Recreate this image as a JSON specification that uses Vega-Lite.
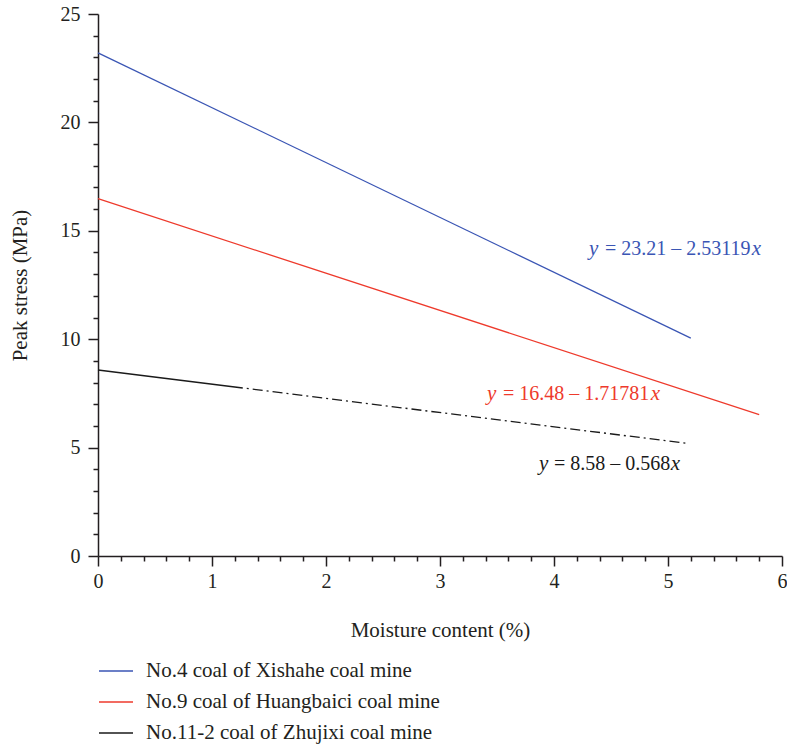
{
  "$schema": "https://vega.github.io/schema/vega-lite/v6.json",
  "width": 684,
  "height": 542,
  "autosize": "none",
  "padding": {"left": 98, "top": 14, "right": 5, "bottom": 192},
  "background": "white",
  "config": {
    "view": {"stroke": null},
    "font": "Liberation Serif",
    "axis": {
      "labelFont": "Liberation Serif",
      "titleFont": "Liberation Serif",
      "labelFontSize": 20,
      "titleFontSize": 21,
      "titleFontWeight": "normal",
      "labelColor": "#231f20",
      "titleColor": "#231f20",
      "domainColor": "#231f20",
      "tickColor": "#231f20",
      "domainWidth": 1.5,
      "tickWidth": 1.5,
      "grid": false
    }
  },
  "datasets": {
    "lines": [
      {"series": "No.4 coal of Xishahe coal mine", "part": "solid", "x": 0, "y": 23.21},
      {"series": "No.4 coal of Xishahe coal mine", "part": "solid", "x": 5.2, "y": 10.05},
      {"series": "No.9 coal of Huangbaici coal mine", "part": "solid", "x": 0, "y": 16.48},
      {"series": "No.9 coal of Huangbaici coal mine", "part": "solid", "x": 5.8, "y": 6.52},
      {"series": "No.11-2 coal of Zhujixi coal mine", "part": "solid", "x": 0, "y": 8.58},
      {"series": "No.11-2 coal of Zhujixi coal mine", "part": "solid", "x": 1.27, "y": 7.75},
      {"series": "No.11-2 coal of Zhujixi coal mine", "part": "dashed", "x": 1.27, "y": 7.75},
      {"series": "No.11-2 coal of Zhujixi coal mine", "part": "dashed", "x": 5.16, "y": 5.2}
    ],
    "eqs": [
      {"series": "No.4 coal of Xishahe coal mine", "x0": 4.307, "xm": 5.085, "x1": 5.817, "y": 14.16, "mid": "= 23.21 – 2.53119"},
      {"series": "No.9 coal of Huangbaici coal mine", "x0": 3.412, "xm": 4.194, "x1": 4.931, "y": 7.47, "mid": "= 16.48 – 1.71781"},
      {"series": "No.11-2 coal of Zhujixi coal mine", "x0": 3.868, "xm": 4.51, "x1": 5.107, "y": 4.24, "mid": "= 8.58 – 0.568"}
    ]
  },
  "layer": [
    {
      "data": {"name": "lines"},
      "transform": [{"filter": "datum.part === 'solid'"}],
      "mark": {"type": "line", "strokeWidth": 1.3},
      "encoding": {
        "x": {
          "field": "x", "type": "quantitative",
          "scale": {"domain": [0, 6], "nice": false, "zero": false},
          "axis": {
            "orient": "bottom", "values": [0, 1, 2, 3, 4, 5, 6], "tickSize": 10,
            "labelPadding": 5, "title": "Moisture content (%)", "titlePadding": 28,
            "labelFlush": false, "labelOverlap": false
          }
        },
        "y": {
          "field": "y", "type": "quantitative",
          "scale": {"domain": [0, 25], "nice": false},
          "axis": {
            "orient": "left", "values": [0, 5, 10, 15, 20, 25], "tickSize": 10,
            "labelPadding": 8, "title": "Peak stress (MPa)", "titlePadding": 30,
            "labelFlush": false, "labelOverlap": false
          }
        },
        "color": {
          "field": "series", "type": "nominal",
          "scale": {
            "domain": ["No.4 coal of Xishahe coal mine", "No.9 coal of Huangbaici coal mine", "No.11-2 coal of Zhujixi coal mine"],
            "range": ["#3a55b4", "#ee3a2c", "#1a1a1a"]
          },
          "legend": {
            "orient": "none", "legendX": 7.5, "legendY": 646.5, "title": null,
            "symbolType": "M-2,0H2", "symbolSize": 289, "symbolStrokeWidth": 1.5,
            "labelFont": "Liberation Serif", "labelFontSize": 21, "labelColor": "#231f20",
            "labelOffset": 19.5, "rowPadding": 9, "padding": 0, "direction": "vertical",
            "labelLimit": 500
          }
        }
      }
    },
    {
      "data": {"name": "lines"},
      "transform": [{"filter": "datum.part === 'dashed'"}],
      "mark": {"type": "line", "strokeWidth": 1.3, "color": "#1a1a1a", "strokeDash": [10, 4, 2, 4], "strokeDashOffset": 10},
      "encoding": {
        "x": {
          "field": "x", "type": "quantitative",
          "axis": {
            "orient": "bottom",
            "values": [0.2, 0.4, 0.6, 0.8, 1.2, 1.4, 1.6, 1.8, 2.2, 2.4, 2.6, 2.8, 3.2, 3.4, 3.6, 3.8, 4.2, 4.4, 4.6, 4.8, 5.2, 5.4, 5.6, 5.8],
            "tickSize": 5, "labels": false, "domain": false, "title": null
          }
        },
        "y": {
          "field": "y", "type": "quantitative",
          "axis": {
            "orient": "left",
            "values": [1, 2, 3, 4, 6, 7, 8, 9, 11, 12, 13, 14, 16, 17, 18, 19, 21, 22, 23, 24],
            "tickSize": 5, "labels": false, "domain": false, "title": null
          }
        }
      }
    },
    {
      "data": {"name": "eqs"},
      "mark": {"type": "text", "text": "y", "fontStyle": "italic", "fontSize": 21, "align": "left", "baseline": "middle", "font": "Liberation Serif"},
      "encoding": {
        "x": {"field": "x0", "type": "quantitative", "axis": null},
        "y": {"field": "y", "type": "quantitative", "axis": null},
        "color": {"field": "series", "type": "nominal", "legend": null}
      }
    },
    {
      "data": {"name": "eqs"},
      "mark": {"type": "text", "fontSize": 20, "align": "center", "baseline": "middle", "font": "Liberation Serif"},
      "encoding": {
        "x": {"field": "xm", "type": "quantitative", "axis": null},
        "y": {"field": "y", "type": "quantitative", "axis": null},
        "text": {"field": "mid"},
        "color": {"field": "series", "type": "nominal", "legend": null}
      }
    },
    {
      "data": {"name": "eqs"},
      "mark": {"type": "text", "text": "x", "fontStyle": "italic", "fontSize": 21, "align": "right", "baseline": "middle", "font": "Liberation Serif"},
      "encoding": {
        "x": {"field": "x1", "type": "quantitative", "axis": null},
        "y": {"field": "y", "type": "quantitative", "axis": null},
        "color": {"field": "series", "type": "nominal", "legend": null}
      }
    }
  ],
  "resolve": {"axis": {"x": "independent", "y": "independent"}}
}
